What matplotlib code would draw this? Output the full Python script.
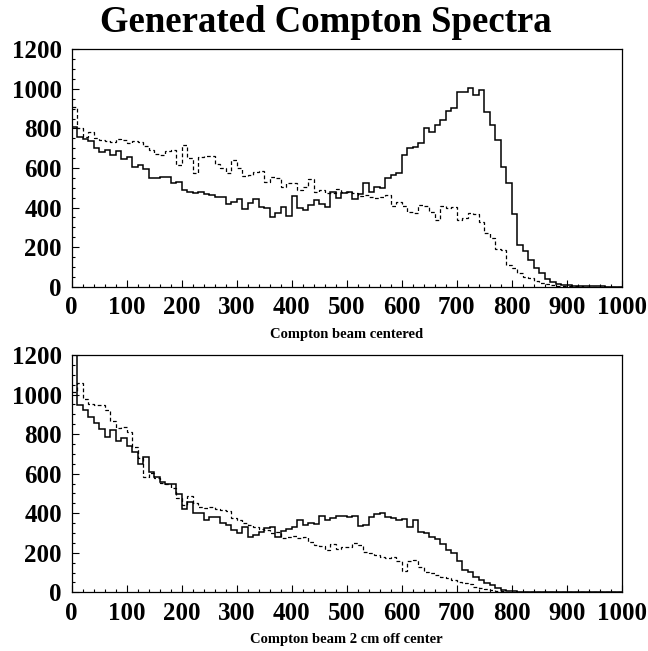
import numpy as np
import matplotlib
matplotlib.use("Agg")
import matplotlib.pyplot as plt
from matplotlib.ticker import MultipleLocator

plt.rcParams['font.family'] = ['Liberation Serif', 'DejaVu Serif']
plt.rcParams['font.weight'] = 'bold'

# 100 bins of width 10 from 0 to 1000
bin_edges = np.arange(0, 1001, 10)

# top panel: beam centered
top_solid = [808, 757, 749, 736, 699, 679, 691, 666, 687, 645,
             657, 607, 615, 593, 548, 548, 556, 556, 526, 531,
             489, 480, 472, 480, 468, 463, 455, 452, 418, 430,
             441, 391, 425, 441, 404, 396, 354, 374, 401, 359,
             460, 396, 388, 413, 438, 416, 404, 477, 447, 472,
             480, 441, 468, 522, 480, 505, 497, 548, 564, 576,
             665, 699, 708, 725, 800, 784, 817, 843, 888, 901,
             986, 986, 1003, 969, 994, 885, 817, 741, 607, 522,
             367, 211, 182, 135, 93, 67, 37, 22, 13, 9,
             7, 5, 6, 4, 3, 2, 2, 1, 1, 0]
top_dashed = [909, 800, 758, 783, 750, 741, 736, 733, 746, 741,
              724, 736, 730, 711, 691, 671, 665, 686, 691, 615,
              716, 649, 573, 657, 662, 662, 618, 601, 573, 640,
              598, 559, 564, 581, 586, 531, 553, 548, 505, 522,
              526, 489, 505, 543, 480, 489, 475, 472, 492, 480,
              480, 472, 458, 463, 452, 447, 455, 463, 408, 430,
              409, 379, 374, 413, 409, 379, 337, 409, 396, 404,
              337, 345, 371, 367, 329, 270, 244, 189, 185, 110,
              93, 67, 51, 42, 30, 20, 13, 8, 5, 4,
              3, 2, 2, 1, 1, 1, 0, 0, 0, 0]

# bottom panel: beam 2 cm off center
bot_solid = [1300, 947, 922, 885, 854, 824, 784, 821, 767, 778,
             740, 711, 649, 686, 610, 585, 559, 548, 548, 497,
             420, 458, 403, 399, 366, 379, 379, 352, 340, 315,
             298, 332, 278, 290, 307, 324, 332, 281, 312, 318,
             329, 366, 340, 349, 345, 388, 366, 374, 388, 386,
             382, 386, 335, 340, 382, 394, 399, 382, 374, 366,
             369, 332, 366, 307, 302, 278, 268, 244, 214, 197,
             160, 113, 104, 79, 62, 49, 37, 20, 12, 7,
             4, 2, 2, 1, 1, 1, 0, 0, 0, 0,
             0, 0, 0, 0, 0, 0, 0, 0, 0, 0]
bot_dashed = [1014, 1056, 975, 952, 947, 947, 922, 866, 829, 834,
              812, 736, 677, 585, 601, 576, 551, 548, 526, 475,
              441, 487, 453, 433, 425, 430, 421, 416, 413, 374,
              366, 352, 340, 332, 320, 315, 302, 307, 276, 281,
              285, 273, 281, 256, 239, 234, 214, 243, 217, 231,
              231, 248, 239, 202, 197, 189, 180, 172, 180, 160,
              110, 160, 163, 130, 104, 99, 88, 79, 71, 62,
              54, 45, 40, 29, 20, 15, 10, 7, 5, 3,
              2, 1, 1, 1, 0, 0, 0, 0, 0, 0,
              0, 0, 0, 0, 0, 0, 0, 0, 0, 0]

xlabels = ["Compton beam centered", "Compton beam 2 cm off center"]

fig = plt.figure(figsize=(6.48, 6.51), dpi=100)
ax1 = fig.add_axes([0.1106, 0.5596, 0.8488, 0.3647])
ax2 = fig.add_axes([0.1106, 0.0902, 0.8488, 0.3645])

panels = [(ax1, top_solid, top_dashed), (ax2, bot_solid, bot_dashed)]
for (ax, solid, dashed), lab in zip(panels, xlabels):
    ax.stairs(solid, bin_edges, baseline=None, color='black', linewidth=1.1)
    ax.stairs(dashed, bin_edges, baseline=None, color='black', linewidth=0.9,
              linestyle=(0, (3, 2)))
    ax.set_xlim(0, 1000)
    ax.set_ylim(0, 1200)
    ax.xaxis.set_major_locator(MultipleLocator(100))
    ax.xaxis.set_minor_locator(MultipleLocator(20))
    ax.yaxis.set_major_locator(MultipleLocator(200))
    ax.yaxis.set_minor_locator(MultipleLocator(50))
    ax.tick_params(which='both', direction='in', top=False, right=False,
                   labelsize=18, width=0.8)
    ax.tick_params(which='major', length=5)
    ax.tick_params(which='minor', length=2.5)
    ax.tick_params(axis='x', pad=7)
    ax.tick_params(axis='y', pad=7)
    for lbl in ax.get_xticklabels() + ax.get_yticklabels():
        lbl.set_fontweight('bold')
    for sp in ax.spines.values():
        sp.set_linewidth(0.9)
    ax.set_xlabel(lab, fontsize=10.5, fontweight='bold', labelpad=6)

fig.text(0.503, 0.966, "Generated Compton Spectra", ha='center', va='center',
         fontsize=26.5, fontweight='bold')

fig.savefig("out.png", dpi=100)
